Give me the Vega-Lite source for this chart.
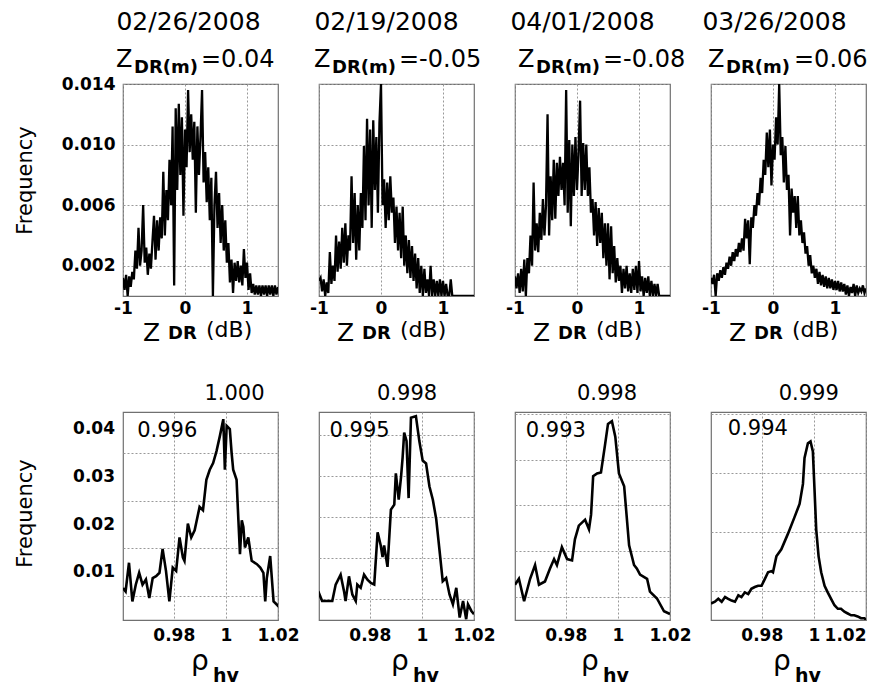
{
"$schema":"https://vega.github.io/schema/vega-lite/v6.json",
"background":"white",
"padding":{"left":13,"top":9,"right":5,"bottom":2},
"autosize":{"type":"pad"},
"config":{
 "font":"DejaVu Sans",
 "view":{"stroke":"#707070","strokeWidth":1.2},
 "axis":{"grid":true,"gridColor":"#999999","gridDash":[2,2],"gridWidth":1,"domain":false,"ticks":false,"labelFont":"DejaVu Sans","labelFontSize":17,"labelFontWeight":"bold","labelColor":"#000","titleFont":"DejaVu Sans","titleFontSize":21,"titleFontWeight":"normal","titleColor":"#000","labelOverlap":false,"labelBound":false,"labelFlush":false},
 "text":{"color":"#000","font":"DejaVu Sans"}
},
"datasets":{
"z1":[{"x":-1,"y":0.0012},{"x":-0.975,"y":0.0004},{"x":-0.95,"y":0.0014},{"x":-0.925,"y":0},{"x":-0.9,"y":0.0013},{"x":-0.875,"y":0.0006},{"x":-0.85,"y":0.0016},{"x":-0.825,"y":0.0011},{"x":-0.8,"y":0.003},{"x":-0.775,"y":0.0018},{"x":-0.75,"y":0.0045},{"x":-0.725,"y":0.002},{"x":-0.7,"y":0.003},{"x":-0.675,"y":0.006},{"x":-0.65,"y":0.0022},{"x":-0.625,"y":0.0032},{"x":-0.6,"y":0.0014},{"x":-0.575,"y":0.0028},{"x":-0.55,"y":0.0018},{"x":-0.525,"y":0.0036},{"x":-0.5,"y":0.0053},{"x":-0.475,"y":0.0024},{"x":-0.45,"y":0.005},{"x":-0.425,"y":0.003},{"x":-0.4,"y":0.0052},{"x":-0.375,"y":0.0038},{"x":-0.35,"y":0.0082},{"x":-0.325,"y":0.004},{"x":-0.3,"y":0.007},{"x":-0.275,"y":0.005},{"x":-0.25,"y":0.009},{"x":-0.225,"y":0.006},{"x":-0.2,"y":0.0112},{"x":-0.175,"y":0.0007},{"x":-0.15,"y":0.0124},{"x":-0.125,"y":0.007},{"x":-0.1,"y":0.0127},{"x":-0.075,"y":0.008},{"x":-0.05,"y":0.0118},{"x":-0.025,"y":0.0053},{"x":0,"y":0.011},{"x":0.025,"y":0.0085},{"x":0.05,"y":0.0136},{"x":0.075,"y":0.0095},{"x":0.1,"y":0.012},{"x":0.125,"y":0.009},{"x":0.15,"y":0.0115},{"x":0.175,"y":0.0055},{"x":0.2,"y":0.0112},{"x":0.225,"y":0.008},{"x":0.25,"y":0.0105},{"x":0.275,"y":0.0136},{"x":0.3,"y":0.0075},{"x":0.325,"y":0.0095},{"x":0.35,"y":0.0062},{"x":0.375,"y":0.0085},{"x":0.4,"y":0.005},{"x":0.425,"y":0.0078},{"x":0.45,"y":0},{"x":0.475,"y":0.006},{"x":0.5,"y":0.0082},{"x":0.525,"y":0.0045},{"x":0.55,"y":0.0068},{"x":0.575,"y":0.0035},{"x":0.6,"y":0.006},{"x":0.625,"y":0.003},{"x":0.65,"y":0.005},{"x":0.675,"y":0.0022},{"x":0.7,"y":0.0035},{"x":0.725,"y":0.0009},{"x":0.75,"y":0.0024},{"x":0.775,"y":0.0002},{"x":0.8,"y":0.0022},{"x":0.825,"y":0.001},{"x":0.85,"y":0.0023},{"x":0.875,"y":0.0009},{"x":0.9,"y":0.002},{"x":0.925,"y":0.0007},{"x":0.95,"y":0.0031},{"x":0.975,"y":0.0012},{"x":1,"y":0.0022},{"x":1.025,"y":0.0004},{"x":1.05,"y":0.0015},{"x":1.075,"y":0.0002},{"x":1.1,"y":0.0008},{"x":1.125,"y":0.0001},{"x":1.15,"y":0.0007},{"x":1.175,"y":0.0001},{"x":1.2,"y":0.0007},{"x":1.225,"y":0},{"x":1.25,"y":0.0007},{"x":1.275,"y":0.0001},{"x":1.3,"y":0.0007},{"x":1.325,"y":0},{"x":1.35,"y":0.0007},{"x":1.375,"y":0.0001},{"x":1.4,"y":0.0007},{"x":1.425,"y":0},{"x":1.45,"y":0.0007},{"x":1.475,"y":0.0001},{"x":1.5,"y":0.0006}],
"z2":[{"x":-1,"y":0.001},{"x":-0.975,"y":0.0012},{"x":-0.95,"y":0.0003},{"x":-0.925,"y":0.0011},{"x":-0.9,"y":0},{"x":-0.875,"y":0.0009},{"x":-0.85,"y":0.0002},{"x":-0.825,"y":0.0029},{"x":-0.8,"y":0.0008},{"x":-0.775,"y":0.002},{"x":-0.75,"y":0.001},{"x":-0.725,"y":0.004},{"x":-0.7,"y":0.0016},{"x":-0.675,"y":0.0036},{"x":-0.65,"y":0.0018},{"x":-0.625,"y":0.0045},{"x":-0.6,"y":0.0022},{"x":-0.575,"y":0.0048},{"x":-0.55,"y":0.002},{"x":-0.525,"y":0.004},{"x":-0.5,"y":0.003},{"x":-0.475,"y":0.0079},{"x":-0.45,"y":0.0035},{"x":-0.425,"y":0.0068},{"x":-0.4,"y":0.0024},{"x":-0.375,"y":0.006},{"x":-0.35,"y":0.003},{"x":-0.325,"y":0.0068},{"x":-0.3,"y":0.0045},{"x":-0.275,"y":0.0099},{"x":-0.25,"y":0.005},{"x":-0.225,"y":0.0117},{"x":-0.2,"y":0.006},{"x":-0.175,"y":0.011},{"x":-0.15,"y":0.0045},{"x":-0.125,"y":0.0116},{"x":-0.1,"y":0.007},{"x":-0.075,"y":0.0105},{"x":-0.05,"y":0.0055},{"x":-0.025,"y":0.0114},{"x":0,"y":0.014},{"x":0.025,"y":0.006},{"x":0.05,"y":0.0077},{"x":0.075,"y":0.0045},{"x":0.1,"y":0.0075},{"x":0.125,"y":0.005},{"x":0.15,"y":0.0079},{"x":0.175,"y":0.0055},{"x":0.2,"y":0.0065},{"x":0.225,"y":0.0035},{"x":0.25,"y":0.0059},{"x":0.275,"y":0.003},{"x":0.3,"y":0.0055},{"x":0.325,"y":0.0025},{"x":0.35,"y":0.0059},{"x":0.375,"y":0.002},{"x":0.4,"y":0.004},{"x":0.425,"y":0.0015},{"x":0.45,"y":0.0037},{"x":0.475,"y":0.0012},{"x":0.5,"y":0.0033},{"x":0.525,"y":0.001},{"x":0.55,"y":0.0028},{"x":0.575,"y":0.0005},{"x":0.6,"y":0.0025},{"x":0.625,"y":0.0002},{"x":0.65,"y":0.002},{"x":0.675,"y":0},{"x":0.7,"y":0.0018},{"x":0.725,"y":0.0002},{"x":0.75,"y":0.0011},{"x":0.775,"y":0},{"x":0.8,"y":0.002},{"x":0.825,"y":0},{"x":0.85,"y":0.0011},{"x":0.875,"y":0},{"x":0.9,"y":0.001},{"x":0.925,"y":0},{"x":0.95,"y":0.0011},{"x":0.975,"y":0},{"x":1,"y":0.001},{"x":1.025,"y":0},{"x":1.05,"y":0.0008},{"x":1.075,"y":0},{"x":1.1,"y":0},{"x":1.125,"y":0.0011},{"x":1.15,"y":0},{"x":1.2,"y":0},{"x":1.5,"y":0}],
"z3":[{"x":-1,"y":0.0013},{"x":-0.975,"y":0.0005},{"x":-0.95,"y":0.0015},{"x":-0.925,"y":0.0002},{"x":-0.9,"y":0.0018},{"x":-0.875,"y":0.0003},{"x":-0.85,"y":0.0024},{"x":-0.825,"y":0},{"x":-0.8,"y":0.0025},{"x":-0.775,"y":0.0015},{"x":-0.75,"y":0.004},{"x":-0.725,"y":0.002},{"x":-0.7,"y":0.0075},{"x":-0.675,"y":0.003},{"x":-0.65,"y":0.0048},{"x":-0.625,"y":0.0029},{"x":-0.6,"y":0.0055},{"x":-0.575,"y":0.0037},{"x":-0.55,"y":0.0064},{"x":-0.525,"y":0.004},{"x":-0.5,"y":0.006},{"x":-0.475,"y":0.012},{"x":-0.45,"y":0.004},{"x":-0.425,"y":0.0079},{"x":-0.4,"y":0.005},{"x":-0.375,"y":0.009},{"x":-0.35,"y":0.0051},{"x":-0.325,"y":0.0088},{"x":-0.3,"y":0.0066},{"x":-0.275,"y":0.0092},{"x":-0.25,"y":0.007},{"x":-0.225,"y":0.0088},{"x":-0.2,"y":0.006},{"x":-0.175,"y":0.0136},{"x":-0.15,"y":0.0055},{"x":-0.125,"y":0.0103},{"x":-0.1,"y":0.0046},{"x":-0.075,"y":0.01},{"x":-0.05,"y":0.0066},{"x":-0.025,"y":0.0105},{"x":0,"y":0.007},{"x":0.025,"y":0.0095},{"x":0.05,"y":0.0129},{"x":0.075,"y":0.0066},{"x":0.1,"y":0.0101},{"x":0.125,"y":0.007},{"x":0.15,"y":0.01},{"x":0.175,"y":0.0066},{"x":0.2,"y":0.0085},{"x":0.225,"y":0.0055},{"x":0.25,"y":0.0064},{"x":0.275,"y":0.004},{"x":0.3,"y":0.0062},{"x":0.325,"y":0.0033},{"x":0.35,"y":0.0058},{"x":0.375,"y":0.0035},{"x":0.4,"y":0.0055},{"x":0.425,"y":0.0025},{"x":0.45,"y":0.0048},{"x":0.475,"y":0.002},{"x":0.5,"y":0.0048},{"x":0.525,"y":0.0011},{"x":0.55,"y":0.0046},{"x":0.575,"y":0.0015},{"x":0.6,"y":0.0033},{"x":0.625,"y":0.0009},{"x":0.65,"y":0.0025},{"x":0.675,"y":0.001},{"x":0.7,"y":0.002},{"x":0.725,"y":0.0002},{"x":0.75,"y":0.0018},{"x":0.775,"y":0.0005},{"x":0.8,"y":0.002},{"x":0.825,"y":0.0003},{"x":0.85,"y":0.0015},{"x":0.875,"y":0.0002},{"x":0.9,"y":0.0018},{"x":0.925,"y":0.0004},{"x":0.95,"y":0.002},{"x":0.975,"y":0.0002},{"x":1,"y":0.0023},{"x":1.025,"y":0.0003},{"x":1.05,"y":0.0013},{"x":1.075,"y":0},{"x":1.1,"y":0.0012},{"x":1.125,"y":0.0002},{"x":1.15,"y":0.0013},{"x":1.175,"y":0},{"x":1.2,"y":0.001},{"x":1.225,"y":0},{"x":1.25,"y":0.0008},{"x":1.275,"y":0},{"x":1.3,"y":0.0008},{"x":1.325,"y":0},{"x":1.35,"y":0},{"x":1.5,"y":0}],
"z4":[{"x":-1,"y":0.0012},{"x":-0.975,"y":0.0008},{"x":-0.95,"y":0.0014},{"x":-0.925,"y":0},{"x":-0.9,"y":0.0015},{"x":-0.875,"y":0.001},{"x":-0.85,"y":0.0017},{"x":-0.825,"y":0.0012},{"x":-0.8,"y":0.0019},{"x":-0.775,"y":0.0014},{"x":-0.75,"y":0.0022},{"x":-0.725,"y":0.0018},{"x":-0.7,"y":0.0026},{"x":-0.675,"y":0.002},{"x":-0.65,"y":0.0029},{"x":-0.625,"y":0.0023},{"x":-0.6,"y":0.0031},{"x":-0.575,"y":0.0026},{"x":-0.55,"y":0.0035},{"x":-0.525,"y":0.0029},{"x":-0.5,"y":0.0038},{"x":-0.475,"y":0.003},{"x":-0.45,"y":0.0051},{"x":-0.425,"y":0.0038},{"x":-0.4,"y":0.005},{"x":-0.375,"y":0.0021},{"x":-0.35,"y":0.0052},{"x":-0.325,"y":0.0045},{"x":-0.3,"y":0.006},{"x":-0.275,"y":0.0053},{"x":-0.25,"y":0.0068},{"x":-0.225,"y":0.006},{"x":-0.2,"y":0.0078},{"x":-0.175,"y":0.0068},{"x":-0.15,"y":0.009},{"x":-0.125,"y":0.008},{"x":-0.1,"y":0.0108},{"x":-0.075,"y":0.0085},{"x":-0.05,"y":0.011},{"x":-0.025,"y":0.0073},{"x":0,"y":0.01},{"x":0.025,"y":0.009},{"x":0.05,"y":0.0118},{"x":0.075,"y":0.01},{"x":0.1,"y":0.014},{"x":0.125,"y":0.0093},{"x":0.15,"y":0.0105},{"x":0.175,"y":0.0075},{"x":0.2,"y":0.0099},{"x":0.225,"y":0.007},{"x":0.25,"y":0.008},{"x":0.275,"y":0.004},{"x":0.3,"y":0.0071},{"x":0.325,"y":0.0055},{"x":0.35,"y":0.0066},{"x":0.375,"y":0.0045},{"x":0.4,"y":0.0066},{"x":0.425,"y":0.004},{"x":0.45,"y":0.005},{"x":0.475,"y":0.0035},{"x":0.5,"y":0.0042},{"x":0.525,"y":0.0028},{"x":0.55,"y":0.0033},{"x":0.575,"y":0.002},{"x":0.6,"y":0.0027},{"x":0.625,"y":0.0015},{"x":0.65,"y":0.002},{"x":0.675,"y":0.0012},{"x":0.7,"y":0.0018},{"x":0.725,"y":0.0008},{"x":0.75,"y":0.0016},{"x":0.775,"y":0.0007},{"x":0.8,"y":0.0014},{"x":0.825,"y":0.0006},{"x":0.85,"y":0.0013},{"x":0.875,"y":0.0005},{"x":0.9,"y":0.0012},{"x":0.925,"y":0.0005},{"x":0.95,"y":0.0011},{"x":0.975,"y":0.0004},{"x":1,"y":0.001},{"x":1.025,"y":0.0004},{"x":1.05,"y":0.001},{"x":1.075,"y":0.0003},{"x":1.1,"y":0.0009},{"x":1.125,"y":0.0003},{"x":1.15,"y":0.0008},{"x":1.175,"y":0.0001},{"x":1.2,"y":0.0007},{"x":1.225,"y":0},{"x":1.25,"y":0.0006},{"x":1.275,"y":0.0002},{"x":1.3,"y":0.0008},{"x":1.325,"y":0},{"x":1.35,"y":0.0007},{"x":1.375,"y":0.0002},{"x":1.4,"y":0.0005},{"x":1.425,"y":0.0003},{"x":1.45,"y":0.0007},{"x":1.475,"y":0.0002},{"x":1.5,"y":0.0005}],
"r1":[{"x":0.9605,"y":0.0067},{"x":0.9615,"y":0.006},{"x":0.9628,"y":0.012},{"x":0.9641,"y":0.0039},{"x":0.9654,"y":0.0074},{"x":0.9667,"y":0.0099},{"x":0.968,"y":0.0074},{"x":0.9693,"y":0.0085},{"x":0.9706,"y":0.0046},{"x":0.9719,"y":0.0088},{"x":0.9732,"y":0.0092},{"x":0.9745,"y":0.0099},{"x":0.9757,"y":0.0149},{"x":0.977,"y":0.0103},{"x":0.9783,"y":0.0039},{"x":0.9796,"y":0.011},{"x":0.9809,"y":0.0103},{"x":0.9822,"y":0.0173},{"x":0.9835,"y":0.0131},{"x":0.9841,"y":0.0124},{"x":0.9854,"y":0.0202},{"x":0.9867,"y":0.0173},{"x":0.988,"y":0.0188},{"x":0.9899,"y":0.0237},{"x":0.9912,"y":0.023},{"x":0.9925,"y":0.0294},{"x":0.9938,"y":0.0315},{"x":0.9951,"y":0.0329},{"x":0.9964,"y":0.0354},{"x":0.9977,"y":0.0386},{"x":0.999,"y":0.0421},{"x":0.9996,"y":0.0315},{"x":1.0003,"y":0.0407},{"x":1.0015,"y":0.04},{"x":1.0022,"y":0.035},{"x":1.0028,"y":0.0315},{"x":1.0041,"y":0.0294},{"x":1.0048,"y":0.0209},{"x":1.0054,"y":0.0138},{"x":1.0061,"y":0.0209},{"x":1.0067,"y":0.0195},{"x":1.0073,"y":0.0152},{"x":1.0086,"y":0.0173},{"x":1.0099,"y":0.0124},{"x":1.0119,"y":0.0117},{"x":1.0132,"y":0.011},{"x":1.0144,"y":0.0099},{"x":1.0151,"y":0.0039},{"x":1.0157,"y":0.0088},{"x":1.017,"y":0.0134},{"x":1.0183,"y":0.0039},{"x":1.0196,"y":0.0032},{"x":1.0202,"y":0.0028}],
"r2":[{"x":0.9602,"y":0.007},{"x":0.9617,"y":0.0046},{"x":0.9656,"y":0.0046},{"x":0.9669,"y":0.0086},{"x":0.9688,"y":0.011},{"x":0.9701,"y":0.007},{"x":0.9707,"y":0.0046},{"x":0.972,"y":0.0106},{"x":0.9733,"y":0.0062},{"x":0.9746,"y":0.0046},{"x":0.9752,"y":0.0086},{"x":0.9765,"y":0.0078},{"x":0.9778,"y":0.011},{"x":0.9791,"y":0.0098},{"x":0.9804,"y":0.009},{"x":0.9817,"y":0.0086},{"x":0.983,"y":0.0213},{"x":0.9842,"y":0.0181},{"x":0.9849,"y":0.0153},{"x":0.9855,"y":0.0181},{"x":0.9868,"y":0.0129},{"x":0.9881,"y":0.0268},{"x":0.9894,"y":0.028},{"x":0.99,"y":0.0356},{"x":0.9911,"y":0.0292},{"x":0.992,"y":0.0348},{"x":0.9926,"y":0.0395},{"x":0.9932,"y":0.0455},{"x":0.9941,"y":0.0435},{"x":0.9949,"y":0.0296},{"x":0.9958,"y":0.0491},{"x":0.9977,"y":0.0495},{"x":0.999,"y":0.0435},{"x":1.0003,"y":0.0387},{"x":1.0016,"y":0.038},{"x":1.0029,"y":0.0324},{"x":1.0042,"y":0.0292},{"x":1.0055,"y":0.0245},{"x":1.0067,"y":0.0173},{"x":1.008,"y":0.0094},{"x":1.0093,"y":0.0102},{"x":1.0106,"y":0.0062},{"x":1.0119,"y":0.0038},{"x":1.0132,"y":0.0078},{"x":1.0145,"y":0.0006},{"x":1.0158,"y":0.0046},{"x":1.017,"y":0.0002},{"x":1.0177,"y":0.0038},{"x":1.019,"y":0.0022},{"x":1.02,"y":0.0014}],
"r3":[{"x":0.9605,"y":0.0077},{"x":0.962,"y":0.009},{"x":0.964,"y":0.0041},{"x":0.9663,"y":0.009},{"x":0.9682,"y":0.012},{"x":0.9697,"y":0.0077},{"x":0.972,"y":0.0084},{"x":0.9739,"y":0.0112},{"x":0.9755,"y":0.0133},{"x":0.9766,"y":0.012},{"x":0.9785,"y":0.0159},{"x":0.9805,"y":0.0133},{"x":0.9824,"y":0.013},{"x":0.9835,"y":0.0176},{"x":0.985,"y":0.0206},{"x":0.9874,"y":0.0219},{"x":0.9889,"y":0.0198},{"x":0.9897,"y":0.023},{"x":0.9905,"y":0.0314},{"x":0.992,"y":0.032},{"x":0.9935,"y":0.0322},{"x":0.995,"y":0.038},{"x":0.9962,"y":0.0428},{"x":0.9977,"y":0.0434},{"x":0.999,"y":0.04},{"x":1.0004,"y":0.032},{"x":1.0024,"y":0.0292},{"x":1.0043,"y":0.0163},{"x":1.0062,"y":0.012},{"x":1.0073,"y":0.0112},{"x":1.0085,"y":0.0099},{"x":1.0112,"y":0.009},{"x":1.0123,"y":0.0062},{"x":1.015,"y":0.0047},{"x":1.0177,"y":0.0019},{"x":1.02,"y":0.0013}],
"r4":[{"x":0.9605,"y":0.0028},{"x":0.962,"y":0.0031},{"x":0.9633,"y":0.0036},{"x":0.9646,"y":0.0031},{"x":0.9659,"y":0.0039},{"x":0.9671,"y":0.0036},{"x":0.9684,"y":0.0033},{"x":0.9697,"y":0.0031},{"x":0.971,"y":0.0042},{"x":0.9722,"y":0.0039},{"x":0.9735,"y":0.0047},{"x":0.9748,"y":0.0044},{"x":0.976,"y":0.0053},{"x":0.9773,"y":0.0056},{"x":0.9786,"y":0.0058},{"x":0.9799,"y":0.0058},{"x":0.9811,"y":0.0069},{"x":0.9824,"y":0.0081},{"x":0.9837,"y":0.0083},{"x":0.9843,"y":0.0081},{"x":0.9856,"y":0.0108},{"x":0.9875,"y":0.012},{"x":0.9901,"y":0.0147},{"x":0.9926,"y":0.0175},{"x":0.9945,"y":0.0197},{"x":0.9958,"y":0.0231},{"x":0.9964,"y":0.0275},{"x":0.9977,"y":0.03},{"x":0.9987,"y":0.0303},{"x":0.9996,"y":0.0286},{"x":1.0002,"y":0.0225},{"x":1.0009,"y":0.0153},{"x":1.0018,"y":0.0108},{"x":1.0028,"y":0.0081},{"x":1.0041,"y":0.0058},{"x":1.0053,"y":0.0047},{"x":1.0066,"y":0.0036},{"x":1.0079,"y":0.0025},{"x":1.0092,"y":0.0019},{"x":1.0104,"y":0.0019},{"x":1.0117,"y":0.0014},{"x":1.013,"y":0.0011},{"x":1.0143,"y":0.0008},{"x":1.0155,"y":0.0008},{"x":1.0168,"y":0.0006},{"x":1.0181,"y":0.0003},{"x":1.0194,"y":0.0003},{"x":1.02,"y":0}]
},
"bounds":"flush",
"columns":4,
"spacing":{"row":116,"column":41},
"concat":[
{"width":155,"height":212,"layer":[
 {"data":{"name":"z1"},"mark":{"type":"line","color":"#000","strokeWidth":2.3,"clip":true},
  "encoding":{"x":{"field":"x","type":"quantitative","scale":{"domain":[-1,1.5],"nice":false,"zero":false},"axis":{"title":null,"values":[-1,-0.5,0,0.5,1,1.5],"labelExpr":"datum.value == -1 ? '-1' : datum.value == 0 ? '0' : datum.value == 1 ? '1' : ''","labelPadding":4,"labelOverlap":false}},
   "y":{"field":"y","type":"quantitative","scale":{"domain":[0,0.014],"nice":false},"axis":{"title":"Frequency","values":[0.002,0.004,0.006,0.008,0.01,0.012,0.014],"labelExpr":"round(datum.value*1000) % 4 == 2 ? format(datum.value, '.3f') : ''","labelOverlap":false,"labelPadding":8,"titleX":-98,"titleY":96,"titleAngle":-90,"titleAlign":"center","titleBaseline":"middle"}}}},
 {"data":{"values":[{}]},"mark":{"type":"text","text":"02/26/2008","fontSize":25,"align":"center","baseline":"alphabetic","dx":-12,"dy":-54},"encoding":{"x":{"datum":0.25},"y":{"datum":0.014}}},
 {"data":{"values":[{}]},"mark":{"type":"text","text":"Z","fontSize":24,"align":"left","baseline":"alphabetic","dx":-7,"dy":-17},"encoding":{"x":{"datum":-1},"y":{"datum":0.014}}},
 {"data":{"values":[{}]},"mark":{"type":"text","text":"DR(m)","fontSize":18,"fontWeight":"bold","align":"left","baseline":"alphabetic","dx":11,"dy":-11},"encoding":{"x":{"datum":-1},"y":{"datum":0.014}}},
 {"data":{"values":[{}]},"mark":{"type":"text","text":"=0.04","fontSize":24,"align":"left","baseline":"alphabetic","dx":78,"dy":-17},"encoding":{"x":{"datum":-1},"y":{"datum":0.014}}},
 {"data":{"values":[{}]},"mark":{"type":"text","text":"Z","fontSize":25,"align":"left","baseline":"alphabetic","dx":20,"dy":45},"encoding":{"x":{"datum":-1},"y":{"datum":0}}},
 {"data":{"values":[{}]},"mark":{"type":"text","text":"DR","fontSize":18,"fontWeight":"bold","align":"left","baseline":"alphabetic","dx":45,"dy":43},"encoding":{"x":{"datum":-1},"y":{"datum":0}}},
 {"data":{"values":[{}]},"mark":{"type":"text","text":"(dB)","fontSize":22,"align":"left","baseline":"alphabetic","dx":83,"dy":41},"encoding":{"x":{"datum":-1},"y":{"datum":0}}}
]},
{"width":155,"height":212,"layer":[
 {"data":{"name":"z2"},"mark":{"type":"line","color":"#000","strokeWidth":2.3,"clip":true},
  "encoding":{"x":{"field":"x","type":"quantitative","scale":{"domain":[-1,1.5],"nice":false,"zero":false},"axis":{"title":null,"values":[-1,-0.5,0,0.5,1,1.5],"labelExpr":"datum.value == -1 ? '-1' : datum.value == 0 ? '0' : datum.value == 1 ? '1' : ''","labelPadding":4,"labelOverlap":false}},
   "y":{"field":"y","type":"quantitative","scale":{"domain":[0,0.014],"nice":false},"axis":{"title":null,"labels":false,"values":[0.002,0.004,0.006,0.008,0.01,0.012,0.014]}}}},
 {"data":{"values":[{}]},"mark":{"type":"text","text":"02/19/2008","fontSize":25,"align":"center","baseline":"alphabetic","dx":-10,"dy":-54},"encoding":{"x":{"datum":0.25},"y":{"datum":0.014}}},
 {"data":{"values":[{}]},"mark":{"type":"text","text":"Z","fontSize":24,"align":"left","baseline":"alphabetic","dx":-5,"dy":-17},"encoding":{"x":{"datum":-1},"y":{"datum":0.014}}},
 {"data":{"values":[{}]},"mark":{"type":"text","text":"DR(m)","fontSize":18,"fontWeight":"bold","align":"left","baseline":"alphabetic","dx":13,"dy":-11},"encoding":{"x":{"datum":-1},"y":{"datum":0.014}}},
 {"data":{"values":[{}]},"mark":{"type":"text","text":"=-0.05","fontSize":24,"align":"left","baseline":"alphabetic","dx":80,"dy":-17},"encoding":{"x":{"datum":-1},"y":{"datum":0.014}}},
 {"data":{"values":[{}]},"mark":{"type":"text","text":"Z","fontSize":25,"align":"left","baseline":"alphabetic","dx":18,"dy":45},"encoding":{"x":{"datum":-1},"y":{"datum":0}}},
 {"data":{"values":[{}]},"mark":{"type":"text","text":"DR","fontSize":18,"fontWeight":"bold","align":"left","baseline":"alphabetic","dx":43,"dy":43},"encoding":{"x":{"datum":-1},"y":{"datum":0}}},
 {"data":{"values":[{}]},"mark":{"type":"text","text":"(dB)","fontSize":22,"align":"left","baseline":"alphabetic","dx":81,"dy":41},"encoding":{"x":{"datum":-1},"y":{"datum":0}}}
]},
{"width":155,"height":212,"layer":[
 {"data":{"name":"z3"},"mark":{"type":"line","color":"#000","strokeWidth":2.3,"clip":true},
  "encoding":{"x":{"field":"x","type":"quantitative","scale":{"domain":[-1,1.5],"nice":false,"zero":false},"axis":{"title":null,"values":[-1,-0.5,0,0.5,1,1.5],"labelExpr":"datum.value == -1 ? '-1' : datum.value == 0 ? '0' : datum.value == 1 ? '1' : ''","labelPadding":4,"labelOverlap":false}},
   "y":{"field":"y","type":"quantitative","scale":{"domain":[0,0.014],"nice":false},"axis":{"title":null,"labels":false,"values":[0.002,0.004,0.006,0.008,0.01,0.012,0.014]}}}},
 {"data":{"values":[{}]},"mark":{"type":"text","text":"04/01/2008","fontSize":25,"align":"center","baseline":"alphabetic","dx":-10,"dy":-54},"encoding":{"x":{"datum":0.25},"y":{"datum":0.014}}},
 {"data":{"values":[{}]},"mark":{"type":"text","text":"Z","fontSize":24,"align":"left","baseline":"alphabetic","dx":3,"dy":-17},"encoding":{"x":{"datum":-1},"y":{"datum":0.014}}},
 {"data":{"values":[{}]},"mark":{"type":"text","text":"DR(m)","fontSize":18,"fontWeight":"bold","align":"left","baseline":"alphabetic","dx":21,"dy":-11},"encoding":{"x":{"datum":-1},"y":{"datum":0.014}}},
 {"data":{"values":[{}]},"mark":{"type":"text","text":"=-0.08","fontSize":24,"align":"left","baseline":"alphabetic","dx":88,"dy":-17},"encoding":{"x":{"datum":-1},"y":{"datum":0.014}}},
 {"data":{"values":[{}]},"mark":{"type":"text","text":"Z","fontSize":25,"align":"left","baseline":"alphabetic","dx":18,"dy":45},"encoding":{"x":{"datum":-1},"y":{"datum":0}}},
 {"data":{"values":[{}]},"mark":{"type":"text","text":"DR","fontSize":18,"fontWeight":"bold","align":"left","baseline":"alphabetic","dx":43,"dy":43},"encoding":{"x":{"datum":-1},"y":{"datum":0}}},
 {"data":{"values":[{}]},"mark":{"type":"text","text":"(dB)","fontSize":22,"align":"left","baseline":"alphabetic","dx":81,"dy":41},"encoding":{"x":{"datum":-1},"y":{"datum":0}}}
]},
{"width":155,"height":212,"layer":[
 {"data":{"name":"z4"},"mark":{"type":"line","color":"#000","strokeWidth":2.3,"clip":true},
  "encoding":{"x":{"field":"x","type":"quantitative","scale":{"domain":[-1,1.5],"nice":false,"zero":false},"axis":{"title":null,"values":[-1,-0.5,0,0.5,1,1.5],"labelExpr":"datum.value == -1 ? '-1' : datum.value == 0 ? '0' : datum.value == 1 ? '1' : ''","labelPadding":4,"labelOverlap":false}},
   "y":{"field":"y","type":"quantitative","scale":{"domain":[0,0.014],"nice":false},"axis":{"title":null,"labels":false,"values":[0.002,0.004,0.006,0.008,0.01,0.012,0.014]}}}},
 {"data":{"values":[{}]},"mark":{"type":"text","text":"03/26/2008","fontSize":25,"align":"center","baseline":"alphabetic","dx":-14,"dy":-54},"encoding":{"x":{"datum":0.25},"y":{"datum":0.014}}},
 {"data":{"values":[{}]},"mark":{"type":"text","text":"Z","fontSize":24,"align":"left","baseline":"alphabetic","dx":-3,"dy":-17},"encoding":{"x":{"datum":-1},"y":{"datum":0.014}}},
 {"data":{"values":[{}]},"mark":{"type":"text","text":"DR(m)","fontSize":18,"fontWeight":"bold","align":"left","baseline":"alphabetic","dx":15,"dy":-11},"encoding":{"x":{"datum":-1},"y":{"datum":0.014}}},
 {"data":{"values":[{}]},"mark":{"type":"text","text":"=0.06","fontSize":24,"align":"left","baseline":"alphabetic","dx":83,"dy":-17},"encoding":{"x":{"datum":-1},"y":{"datum":0.014}}},
 {"data":{"values":[{}]},"mark":{"type":"text","text":"Z","fontSize":25,"align":"left","baseline":"alphabetic","dx":18,"dy":45},"encoding":{"x":{"datum":-1},"y":{"datum":0}}},
 {"data":{"values":[{}]},"mark":{"type":"text","text":"DR","fontSize":18,"fontWeight":"bold","align":"left","baseline":"alphabetic","dx":43,"dy":43},"encoding":{"x":{"datum":-1},"y":{"datum":0}}},
 {"data":{"values":[{}]},"mark":{"type":"text","text":"(dB)","fontSize":22,"align":"left","baseline":"alphabetic","dx":81,"dy":41},"encoding":{"x":{"datum":-1},"y":{"datum":0}}}
]},
{"width":155,"height":208,"layer":[
 {"data":{"name":"r1"},"mark":{"type":"line","color":"#000","strokeWidth":2.6,"clip":true},
  "encoding":{"x":{"field":"x","type":"quantitative","scale":{"domain":[0.9605,1.02],"nice":false,"zero":false},"axis":{"title":null,"values":[0.98,1,1.02],"labelExpr":"datum.value < 0.99 ? '0.98' : datum.value < 1.01 ? '1' : '1.02'","labelPadding":7,"labelOverlap":false}},
   "y":{"field":"y","type":"quantitative","scale":{"domain":[0,0.0436],"nice":false},"axis":{"title":"Frequency","labels":false,"values":[0.005,0.01,0.015,0.02,0.025,0.03,0.035,0.04],"titleX":-98,"titleY":101,"titleAngle":-90,"titleAlign":"center","titleBaseline":"middle"}}}},
 {"data":{"values":[{"v":0.01,"t":"0.01"},{"v":0.02,"t":"0.02"},{"v":0.03,"t":"0.03"},{"v":0.04,"t":"0.04"}]},"mark":{"type":"text","fontSize":17,"fontWeight":"bold","align":"right","baseline":"middle","dx":-8},"encoding":{"x":{"datum":0.9605},"y":{"field":"v","type":"quantitative"},"text":{"field":"t"}}},
 {"data":{"values":[{}]},"mark":{"type":"text","text":"1.000","fontSize":21,"align":"center","baseline":"alphabetic"},"encoding":{"x":{"datum":1.0033},"y":{"datum":0.0461}}},
 {"data":{"values":[{}]},"mark":{"type":"text","text":"0.996","fontSize":21,"align":"center","baseline":"alphabetic"},"encoding":{"x":{"datum":0.9775},"y":{"datum":0.0384}}},
 {"data":{"values":[{}]},"mark":{"type":"text","text":"ρ","fontSize":28,"align":"left","baseline":"alphabetic","dx":68,"dy":50},"encoding":{"x":{"datum":0.9605},"y":{"datum":0}}},
 {"data":{"values":[{}]},"mark":{"type":"text","text":"hv","fontSize":19,"fontWeight":"bold","align":"left","baseline":"alphabetic","dx":90,"dy":62},"encoding":{"x":{"datum":0.9605},"y":{"datum":0}}}
]},
{"width":155,"height":208,"layer":[
 {"data":{"name":"r2"},"mark":{"type":"line","color":"#000","strokeWidth":2.6,"clip":true},
  "encoding":{"x":{"field":"x","type":"quantitative","scale":{"domain":[0.9605,1.02],"nice":false,"zero":false},"axis":{"title":null,"values":[0.98,1,1.02],"labelExpr":"datum.value < 0.99 ? '0.98' : datum.value < 1.01 ? '1' : '1.02'","labelPadding":7,"labelOverlap":false}},
   "y":{"field":"y","type":"quantitative","scale":{"domain":[0,0.0505],"nice":false},"axis":{"title":null,"labels":false,"values":[0.005,0.01,0.015,0.02,0.025,0.03,0.035,0.04,0.045,0.05]}}}},
 {"data":{"values":[{}]},"mark":{"type":"text","text":"0.998","fontSize":21,"align":"center","baseline":"alphabetic"},"encoding":{"x":{"datum":0.9943},"y":{"datum":0.0534}}},
 {"data":{"values":[{}]},"mark":{"type":"text","text":"0.995","fontSize":21,"align":"center","baseline":"alphabetic"},"encoding":{"x":{"datum":0.9761},"y":{"datum":0.0444}}},
 {"data":{"values":[{}]},"mark":{"type":"text","text":"ρ","fontSize":28,"align":"left","baseline":"alphabetic","dx":72,"dy":50},"encoding":{"x":{"datum":0.9605},"y":{"datum":0}}},
 {"data":{"values":[{}]},"mark":{"type":"text","text":"hv","fontSize":19,"fontWeight":"bold","align":"left","baseline":"alphabetic","dx":94,"dy":62},"encoding":{"x":{"datum":0.9605},"y":{"datum":0}}}
]},
{"width":155,"height":208,"layer":[
 {"data":{"name":"r3"},"mark":{"type":"line","color":"#000","strokeWidth":2.6,"clip":true},
  "encoding":{"x":{"field":"x","type":"quantitative","scale":{"domain":[0.9605,1.02],"nice":false,"zero":false},"axis":{"title":null,"values":[0.98,1,1.02],"labelExpr":"datum.value < 0.99 ? '0.98' : datum.value < 1.01 ? '1' : '1.02'","labelPadding":7,"labelOverlap":false}},
   "y":{"field":"y","type":"quantitative","scale":{"domain":[0,0.0454],"nice":false},"axis":{"title":null,"labels":false,"values":[0.005,0.01,0.015,0.02,0.025,0.03,0.035,0.04,0.045]}}}},
 {"data":{"values":[{}]},"mark":{"type":"text","text":"0.998","fontSize":21,"align":"center","baseline":"alphabetic"},"encoding":{"x":{"datum":0.9958},"y":{"datum":0.048}}},
 {"data":{"values":[{}]},"mark":{"type":"text","text":"0.993","fontSize":21,"align":"center","baseline":"alphabetic"},"encoding":{"x":{"datum":0.9762},"y":{"datum":0.04}}},
 {"data":{"values":[{}]},"mark":{"type":"text","text":"ρ","fontSize":28,"align":"left","baseline":"alphabetic","dx":66,"dy":50},"encoding":{"x":{"datum":0.9605},"y":{"datum":0}}},
 {"data":{"values":[{}]},"mark":{"type":"text","text":"hv","fontSize":19,"fontWeight":"bold","align":"left","baseline":"alphabetic","dx":88,"dy":62},"encoding":{"x":{"datum":0.9605},"y":{"datum":0}}}
]},
{"width":155,"height":208,"layer":[
 {"data":{"name":"r4"},"mark":{"type":"line","color":"#000","strokeWidth":2.6,"clip":true},
  "encoding":{"x":{"field":"x","type":"quantitative","scale":{"domain":[0.9605,1.02],"nice":false,"zero":false},"axis":{"title":null,"values":[0.98,1,1.02],"labelExpr":"datum.value < 0.99 ? '0.98' : datum.value < 1.01 ? '1' : '1.02'","labelPadding":7,"labelFlush":true,"labelOverlap":false}},
   "y":{"field":"y","type":"quantitative","scale":{"domain":[0,0.0353],"nice":false},"axis":{"title":null,"labels":false,"values":[0.005,0.01,0.015,0.02,0.025,0.03,0.035]}}}},
 {"data":{"values":[{}]},"mark":{"type":"text","text":"0.999","fontSize":21,"align":"center","baseline":"alphabetic"},"encoding":{"x":{"datum":0.998},"y":{"datum":0.0374}}},
 {"data":{"values":[{}]},"mark":{"type":"text","text":"0.994","fontSize":21,"align":"center","baseline":"alphabetic"},"encoding":{"x":{"datum":0.9785},"y":{"datum":0.0314}}},
 {"data":{"values":[{}]},"mark":{"type":"text","text":"ρ","fontSize":28,"align":"left","baseline":"alphabetic","dx":62,"dy":50},"encoding":{"x":{"datum":0.9605},"y":{"datum":0}}},
 {"data":{"values":[{}]},"mark":{"type":"text","text":"hv","fontSize":19,"fontWeight":"bold","align":"left","baseline":"alphabetic","dx":84,"dy":62},"encoding":{"x":{"datum":0.9605},"y":{"datum":0}}}
]}
]
}
